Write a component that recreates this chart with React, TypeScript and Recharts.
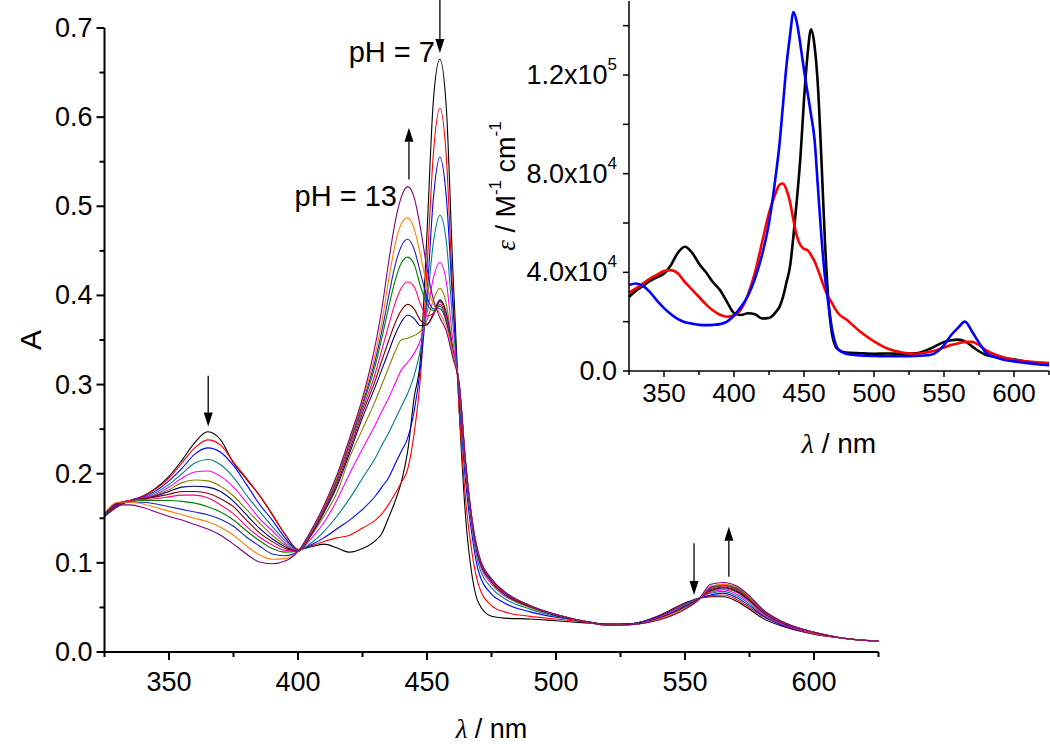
import React from "react";
import { LineChart, Line, XAxis, YAxis, ReferenceLine } from "recharts";

const FONT = '"Liberation Sans", Arial, sans-serif';
const GREEK = '"Liberation Serif", "Times New Roman", serif';

// main plot: absorbance vs wavelength (nm), pH 7 -> pH 13
const mainNm = [
  325, 330, 335, 340, 345, 350, 355, 360, 365, 370, 375, 380, 385, 390, 395, 400, 405, 410, 415, 420, 425,
  430, 432.5, 435, 437.5, 440, 442.5, 445, 447.5, 450, 452.5, 455, 457.5, 460, 462.5, 465, 467.5, 470,
  475, 480, 490, 500, 510, 520, 530, 540, 550, 555, 560, 565, 570, 575, 580, 590, 600, 610, 625,
];

const absBlack = [
  0.152, 0.163, 0.17, 0.175, 0.184, 0.197, 0.215, 0.235, 0.247, 0.238, 0.212, 0.194, 0.176, 0.154, 0.132, 0.115, 0.118, 0.121, 0.117, 0.112, 0.116,
  0.125, 0.133, 0.15, 0.168, 0.19, 0.225, 0.285, 0.33, 0.47, 0.62, 0.665, 0.61, 0.43, 0.27, 0.15, 0.085, 0.055,
  0.04, 0.038, 0.037, 0.035, 0.033, 0.031, 0.032, 0.041, 0.055, 0.06, 0.062, 0.062, 0.057, 0.048, 0.038, 0.027, 0.02, 0.016, 0.012,
];
const absRed = [
  0.152, 0.163, 0.17, 0.175, 0.183, 0.195, 0.212, 0.229, 0.238, 0.232, 0.213, 0.195, 0.176, 0.155, 0.132, 0.115, 0.119, 0.124, 0.128, 0.131, 0.139,
  0.148, 0.155, 0.165, 0.177, 0.19, 0.205, 0.245, 0.31, 0.43, 0.56, 0.61, 0.555, 0.4, 0.27, 0.17, 0.11, 0.075,
  0.052, 0.045, 0.04, 0.037, 0.034, 0.031, 0.032, 0.04, 0.054, 0.06, 0.063, 0.064, 0.059, 0.05, 0.04, 0.028, 0.02, 0.016, 0.012,
];
const absBlue = [
  0.153, 0.164, 0.17, 0.174, 0.181, 0.192, 0.206, 0.222, 0.229, 0.224, 0.209, 0.188, 0.166, 0.148, 0.128, 0.114, 0.12, 0.128, 0.138, 0.148, 0.16,
  0.175, 0.185, 0.195, 0.21, 0.225, 0.24, 0.27, 0.32, 0.4, 0.51, 0.555, 0.51, 0.39, 0.285, 0.19, 0.13, 0.09,
  0.065, 0.055, 0.045, 0.039, 0.035, 0.031, 0.032, 0.04, 0.053, 0.06, 0.064, 0.066, 0.061, 0.052, 0.041, 0.028, 0.021, 0.016, 0.012,
];
const absTeal = [
  0.153, 0.165, 0.17, 0.173, 0.179, 0.188, 0.2, 0.212, 0.216, 0.21, 0.196, 0.176, 0.158, 0.141, 0.125, 0.114, 0.122, 0.135, 0.152, 0.172, 0.195,
  0.218, 0.232, 0.245, 0.26, 0.275, 0.29, 0.31, 0.34, 0.39, 0.46, 0.49, 0.46, 0.37, 0.29, 0.2, 0.138, 0.098,
  0.072, 0.06, 0.048, 0.04, 0.035, 0.031, 0.032, 0.039, 0.053, 0.06, 0.066, 0.068, 0.063, 0.054, 0.042, 0.029, 0.021, 0.016, 0.012,
];
const absMagenta = [
  0.154, 0.166, 0.17, 0.173, 0.177, 0.185, 0.195, 0.202, 0.203, 0.197, 0.185, 0.168, 0.15, 0.136, 0.122, 0.113, 0.127, 0.145, 0.17, 0.2, 0.228,
  0.255, 0.27, 0.284, 0.3, 0.316, 0.325, 0.335, 0.35, 0.38, 0.42, 0.437, 0.415, 0.35, 0.295, 0.205, 0.142, 0.103,
  0.076, 0.063, 0.05, 0.041, 0.035, 0.031, 0.032, 0.039, 0.052, 0.059, 0.067, 0.07, 0.065, 0.056, 0.043, 0.029, 0.021, 0.016, 0.012,
];
const absOlive = [
  0.154, 0.166, 0.17, 0.172, 0.176, 0.182, 0.19, 0.193, 0.192, 0.186, 0.175, 0.16, 0.145, 0.131, 0.12, 0.113, 0.13, 0.152, 0.178, 0.218, 0.25,
  0.282, 0.3, 0.318, 0.336, 0.35, 0.352, 0.355, 0.36, 0.372, 0.395, 0.408, 0.39, 0.34, 0.297, 0.207, 0.144, 0.105,
  0.078, 0.064, 0.05, 0.041, 0.035, 0.031, 0.032, 0.038, 0.051, 0.059, 0.068, 0.071, 0.067, 0.057, 0.044, 0.03, 0.021, 0.016, 0.012,
];
const absNavy = [
  0.154, 0.166, 0.17, 0.172, 0.175, 0.18, 0.185, 0.186, 0.185, 0.18, 0.169, 0.154, 0.139, 0.127, 0.118, 0.113, 0.131, 0.156, 0.185, 0.223, 0.263,
  0.298, 0.317, 0.336, 0.355, 0.37, 0.378, 0.374, 0.366, 0.367, 0.38, 0.395, 0.38, 0.338, 0.298, 0.208, 0.145, 0.106,
  0.079, 0.065, 0.051, 0.041, 0.035, 0.031, 0.032, 0.038, 0.051, 0.059, 0.069, 0.072, 0.068, 0.058, 0.045, 0.03, 0.022, 0.016, 0.012,
];
const absWine = [
  0.154, 0.166, 0.17, 0.172, 0.174, 0.177, 0.18, 0.18, 0.178, 0.172, 0.163, 0.148, 0.134, 0.124, 0.116, 0.113, 0.132, 0.158, 0.188, 0.227, 0.268,
  0.305, 0.327, 0.348, 0.368, 0.383, 0.39, 0.385, 0.372, 0.368, 0.378, 0.393, 0.378, 0.338, 0.299, 0.209, 0.146, 0.107,
  0.08, 0.066, 0.051, 0.042, 0.035, 0.031, 0.031, 0.038, 0.05, 0.059, 0.07, 0.073, 0.069, 0.059, 0.045, 0.03, 0.022, 0.016, 0.012,
];
const absPink = [
  0.155, 0.167, 0.17, 0.171, 0.172, 0.174, 0.176, 0.176, 0.173, 0.165, 0.155, 0.141, 0.129, 0.12, 0.114, 0.113, 0.133, 0.16, 0.191, 0.231, 0.272,
  0.313, 0.339, 0.365, 0.39, 0.408, 0.415, 0.41, 0.39, 0.377, 0.38, 0.39, 0.375, 0.337, 0.299, 0.21, 0.147, 0.108,
  0.08, 0.066, 0.052, 0.042, 0.035, 0.03, 0.031, 0.037, 0.05, 0.058, 0.071, 0.074, 0.07, 0.06, 0.046, 0.031, 0.022, 0.016, 0.012,
];
const absGreen = [
  0.155, 0.167, 0.169, 0.17, 0.17, 0.17, 0.169, 0.167, 0.163, 0.157, 0.148, 0.136, 0.125, 0.116, 0.112, 0.113, 0.134, 0.161, 0.193, 0.234, 0.276,
  0.322, 0.352, 0.385, 0.415, 0.436, 0.443, 0.435, 0.41, 0.39, 0.383, 0.388, 0.372, 0.336, 0.3, 0.211, 0.147, 0.108,
  0.081, 0.067, 0.052, 0.042, 0.035, 0.03, 0.031, 0.037, 0.05, 0.058, 0.072, 0.075, 0.071, 0.061, 0.047, 0.031, 0.022, 0.016, 0.012,
];
const absRoyal = [
  0.155, 0.167, 0.168, 0.168, 0.166, 0.163, 0.16, 0.157, 0.154, 0.149, 0.141, 0.129, 0.119, 0.11, 0.108, 0.113, 0.134, 0.162, 0.195, 0.236, 0.279,
  0.328, 0.36, 0.397, 0.432, 0.455, 0.463, 0.452, 0.425, 0.398, 0.385, 0.385, 0.37, 0.335, 0.3, 0.211, 0.147, 0.109,
  0.081, 0.067, 0.052, 0.042, 0.035, 0.03, 0.031, 0.037, 0.049, 0.058, 0.073, 0.076, 0.072, 0.062, 0.047, 0.031, 0.022, 0.016, 0.012,
];
const absOrange = [
  0.155, 0.168, 0.168, 0.166, 0.162, 0.158, 0.154, 0.15, 0.146, 0.14, 0.131, 0.119, 0.109, 0.104, 0.105, 0.113, 0.135, 0.163, 0.196, 0.238, 0.282,
  0.335, 0.37, 0.415, 0.455, 0.48, 0.487, 0.475, 0.445, 0.41, 0.39, 0.38, 0.365, 0.335, 0.3, 0.212, 0.148, 0.11,
  0.082, 0.068, 0.052, 0.042, 0.035, 0.03, 0.031, 0.037, 0.049, 0.058, 0.074, 0.076, 0.073, 0.062, 0.048, 0.031, 0.022, 0.016, 0.012,
];
const absPurple = [
  0.155, 0.165, 0.165, 0.162, 0.157, 0.152, 0.148, 0.143, 0.138, 0.131, 0.121, 0.11, 0.101, 0.099, 0.102, 0.113, 0.136, 0.164, 0.198, 0.24, 0.285,
  0.345, 0.385, 0.435, 0.48, 0.51, 0.522, 0.51, 0.475, 0.43, 0.395, 0.375, 0.36, 0.33, 0.3, 0.212, 0.148, 0.11,
  0.082, 0.068, 0.052, 0.042, 0.035, 0.03, 0.031, 0.036, 0.048, 0.058, 0.076, 0.078, 0.074, 0.063, 0.048, 0.031, 0.022, 0.016, 0.012,
];

const mainSeries = [
  { key: "black", color: "#000000", values: absBlack },
  { key: "red", color: "#ff0000", values: absRed },
  { key: "blue", color: "#0000ff", values: absBlue },
  { key: "teal", color: "#008080", values: absTeal },
  { key: "magenta", color: "#ff00ff", values: absMagenta },
  { key: "olive", color: "#808000", values: absOlive },
  { key: "navy", color: "#000080", values: absNavy },
  { key: "wine", color: "#800000", values: absWine },
  { key: "pink", color: "#ff0080", values: absPink },
  { key: "green", color: "#008000", values: absGreen },
  { key: "royal", color: "#2020c8", values: absRoyal },
  { key: "orange", color: "#ff8000", values: absOrange },
  { key: "purple", color: "#800080", values: absPurple },
];

// inset: molar absorptivity (M^-1 cm^-1)
const insetNm = [
  325, 330, 335, 340, 345, 350, 355, 360, 365, 370, 375, 380, 385, 390, 395, 400, 405, 410, 415, 420, 425, 430,
  432.5, 435, 437.5, 440, 442.5, 445, 447.5, 450, 452.5, 455, 457.5, 460, 462.5, 465, 467.5, 470, 472.5, 475,
  480, 490, 500, 510, 520, 530, 540, 550, 555, 560, 565, 570, 575, 580, 590, 600, 610, 625,
];
const epsBlack = [
  30000, 32500, 34500, 36500, 38000, 39500, 43000, 48000, 50400, 48000, 43500, 40000, 36000, 32800, 28000, 23500, 22700, 23400, 23000, 21300, 21500, 24000,
  26000, 30000, 36000, 42300, 55000, 70000, 87000, 110000, 128000, 138500, 132000, 115000, 85000, 52000, 28000, 15000, 10000, 8500,
  7500, 7200, 7000, 7100, 7000, 7200, 9000, 11800, 12500, 12700, 12000, 10000, 8000, 6500, 5500, 4700, 3700, 2400,
];
const epsRed = [
  31700, 33500, 35500, 37500, 39000, 40500, 40900, 39500, 36000, 33000, 30000, 27000, 24500, 22800, 22000, 22500, 25000, 31000, 40000, 52000, 64000, 72500,
  75500, 76000, 73500, 68500, 61000, 54500, 51000, 49500, 49000, 47000, 44500, 41000, 37000, 33000, 30000, 27500, 25000, 23000,
  21000, 16000, 12000, 9000, 7500, 7000, 7800, 9500, 10500, 11200, 11800, 11800, 10500, 8500, 6000, 4500, 3800, 3200,
];
const epsBlue = [
  34900, 35500, 34500, 32000, 28500, 25500, 23000, 21000, 19800, 19200, 18700, 18600, 18700, 19000, 20000, 22500, 26000, 30500, 37500, 47000, 60000, 80000,
  92000, 108000, 124000, 136000, 145500, 141000, 132000, 122000, 113000, 104000, 94000, 74000, 54000, 38000, 27000, 17000, 11000, 8500,
  7000, 6300, 6100, 6000, 6000, 6100, 6500, 10500, 14500, 17500, 20000, 16000, 11500, 7500, 5000, 3900, 3200, 2400,
];

const insetSeries = [
  { key: "black", color: "#000000", values: epsBlack },
  { key: "red", color: "#ff0000", values: epsRed },
  { key: "blue", color: "#0000ff", values: epsBlue },
];

const mainXTicks = [325, 350, 375, 400, 425, 450, 475, 500, 525, 550, 575, 600, 625];
const mainYTicks = [0, 0.05, 0.1, 0.15, 0.2, 0.25, 0.3, 0.35, 0.4, 0.45, 0.5, 0.55, 0.6, 0.65, 0.7];
const insetYTicks = [0, 20000, 40000, 60000, 80000, 100000, 120000, 140000];

// arrows: wavelength, start absorbance, tip absorbance
const arrowMarks = [
  { nm: 455, from: 0.735, to: 0.672, text: "pH = 7", place: "tip" },
  { nm: 443, from: 0.53, to: 0.588, text: "pH = 13", place: "tail" },
  { nm: 365.2, from: 0.31, to: 0.253, text: "", place: "" },
  { nm: 553.5, from: 0.122, to: 0.064, text: "", place: "" },
  { nm: 567, from: 0.0845, to: 0.1406, text: "", place: "" },
];

const mainRows = mainNm.map((nm, i) => {
  const row: Record<string, number> = { nm };
  mainSeries.forEach((s) => (row[s.key] = s.values[i]));
  return row;
});
const insetRows = insetNm.map((nm, i) => {
  const row: Record<string, number> = { nm };
  insetSeries.forEach((s) => (row[s.key] = s.values[i]));
  return row;
});

function MainXTick({ x, y, payload }: any) {
  const v = payload.value;
  const major = v % 50 === 0;
  return (
    <g>
      <line x1={x} x2={x} y1={y} y2={y + (major ? 8 : 5)} stroke="#000" strokeWidth={2} />
      {major && (
        <text x={x} y={y + 30} textAnchor="middle" dominantBaseline="central" fontSize={27} fontFamily={FONT} fill="#000">
          {v}
        </text>
      )}
    </g>
  );
}

function MainYTick({ x, y, payload }: any) {
  const v = payload.value;
  const major = Math.round(v * 100) % 10 === 0;
  return (
    <g>
      <line x1={x - (major ? 8 : 5)} x2={x} y1={y} y2={y} stroke="#000" strokeWidth={2} />
      {major && (
        <text x={x - 12} y={y} textAnchor="end" dominantBaseline="central" fontSize={27} fontFamily={FONT} fill="#000">
          {v.toFixed(1)}
        </text>
      )}
    </g>
  );
}

function InsetXTick({ x, y, payload }: any) {
  const v = payload.value;
  const major = v % 50 === 0;
  return (
    <g>
      <line x1={x} x2={x} y1={y} y2={y + (major ? 6 : 4)} stroke="#000" strokeWidth={1.5} />
      {major && (
        <text x={x} y={y + 22} textAnchor="middle" dominantBaseline="central" fontSize={26} fontFamily={FONT} fill="#000">
          {v}
        </text>
      )}
    </g>
  );
}

function InsetYTick({ x, y, payload }: any) {
  const v = payload.value;
  const major = v % 40000 === 0;
  let label: React.ReactNode = null;
  if (major) {
    if (v === 0) {
      label = "0.0";
    } else {
      const exp = Math.floor(Math.log10(v));
      const mant = (v / Math.pow(10, exp)).toFixed(1);
      label = (
        <>
          <tspan>{mant}x10</tspan>
          <tspan dy={-11} fontSize={17}>{exp}</tspan>
        </>
      );
    }
  }
  return (
    <g>
      <line x1={x - 6} x2={x} y1={y} y2={y} stroke="#000" strokeWidth={1.5} />
      {major && (
        <text x={x - 12} y={y} textAnchor="end" dominantBaseline="central" fontSize={27} fontFamily={FONT} fill="#000">
          {label}
        </text>
      )}
    </g>
  );
}

function MainXTitle({ viewBox }: any) {
  return (
    <text x={viewBox.x + viewBox.width / 2} y={viewBox.y + 77} textAnchor="middle" dominantBaseline="central" fontSize={27} fontFamily={FONT} fill="#000">
      <tspan fontFamily={GREEK} fontStyle="italic">λ</tspan> / nm
    </text>
  );
}

function MainYTitle({ viewBox }: any) {
  const cx = viewBox.x + 30;
  const cy = viewBox.y + viewBox.height / 2;
  return (
    <text x={cx} y={cy} transform={`rotate(-90, ${cx}, ${cy})`} textAnchor="middle" dominantBaseline="central" fontSize={30} fontFamily={FONT} fill="#000">
      A
    </text>
  );
}

function InsetXTitle({ viewBox }: any) {
  return (
    <text x={viewBox.x + viewBox.width / 2} y={viewBox.y + 72} textAnchor="middle" dominantBaseline="central" fontSize={28} fontFamily={FONT} fill="#000">
      <tspan fontFamily={GREEK} fontStyle="italic">λ</tspan> / nm
    </text>
  );
}

function InsetYTitle({ viewBox }: any) {
  const cx = viewBox.x + 26;
  const cy = viewBox.y + viewBox.height / 2;
  return (
    <text x={cx} y={cy} transform={`rotate(-90, ${cx}, ${cy})`} textAnchor="middle" dominantBaseline="central" fontSize={27} fontFamily={FONT} fill="#000">
      <tspan fontFamily={GREEK} fontStyle="italic">ε</tspan>
      <tspan> / M</tspan>
      <tspan dy={-11} fontSize={17}>-1</tspan>
      <tspan dy={11}> cm</tspan>
      <tspan dy={-11} fontSize={17}>-1</tspan>
    </text>
  );
}

function ArrowShape(props: any) {
  const { x1, y1, x2, y2, mark } = props;
  const dir = y2 > y1 ? 1 : -1;
  const head = 14;
  const half = 4.5;
  return (
    <g>
      <line x1={x1} y1={y1} x2={x2} y2={y2 - dir * head} stroke="#000" strokeWidth={1.3} />
      <polygon points={`${x2},${y2} ${x2 - half},${y2 - dir * head} ${x2 + half},${y2 - dir * head}`} fill="#000" />
      {mark.place === "tip" && (
        <text x={x2 - 5} y={y2 - 1} textAnchor="end" dominantBaseline="central" fontSize={29} fontFamily={FONT} fill="#000">
          {mark.text}
        </text>
      )}
      {mark.place === "tail" && (
        <text x={x1 - 12} y={y1 + 16} textAnchor="end" dominantBaseline="central" fontSize={29} fontFamily={FONT} fill="#000">
          {mark.text}
        </text>
      )}
    </g>
  );
}

export default function App() {
  return (
    <div style={{ position: "absolute", left: 0, top: 0, width: 1050, height: 744, background: "#fff" }}>
      <div style={{ position: "absolute", left: 0, top: 0 }}>
        <LineChart width={1050} height={744} data={mainRows} margin={{ top: 28, right: 171.5, bottom: 0, left: 0 }}>
          <XAxis
            dataKey="nm"
            type="number"
            domain={[325, 625]}
            ticks={mainXTicks}
            interval={0}
            height={92}
            tickSize={0}
            tickMargin={0}
            tickLine={false}
            axisLine={{ stroke: "#000", strokeWidth: 2 }}
            tick={<MainXTick />}
            label={<MainXTitle />}
          />
          <YAxis
            type="number"
            domain={[0, 0.7]}
            ticks={mainYTicks}
            interval={0}
            width={104.5}
            tickSize={0}
            tickMargin={0}
            tickLine={false}
            axisLine={{ stroke: "#000", strokeWidth: 2 }}
            tick={<MainYTick />}
            label={<MainYTitle />}
          />
          {mainSeries.map((s) => (
            <Line key={s.key} type="monotone" dataKey={s.key} stroke={s.color} strokeWidth={1.1} dot={false} isAnimationActive={false} />
          ))}
          {arrowMarks.map((m, i) => (
            <ReferenceLine
              key={i}
              segment={[
                { x: m.nm, y: m.from },
                { x: m.nm, y: m.to },
              ]}
              ifOverflow="visible"
              shape={(p: any) => <ArrowShape {...p} mark={m} />}
            />
          ))}
        </LineChart>
      </div>
      <div style={{ position: "absolute", left: 480, top: 0 }}>
        <LineChart width={570} height={460} data={insetRows} margin={{ top: 1, right: 1, bottom: 0, left: 0 }}>
          <XAxis
            dataKey="nm"
            type="number"
            domain={[325, 625]}
            ticks={mainXTicks}
            interval={0}
            height={89}
            tickSize={0}
            tickMargin={0}
            tickLine={false}
            axisLine={{ stroke: "#000", strokeWidth: 1.5 }}
            tick={<InsetXTick />}
            label={<InsetXTitle />}
          />
          <YAxis
            type="number"
            domain={[0, 150000]}
            ticks={insetYTicks}
            interval={0}
            width={149}
            tickSize={0}
            tickMargin={0}
            tickLine={false}
            axisLine={{ stroke: "#000", strokeWidth: 1.5 }}
            tick={<InsetYTick />}
            label={<InsetYTitle />}
          />
          {insetSeries.map((s) => (
            <Line key={s.key} type="monotone" dataKey={s.key} stroke={s.color} strokeWidth={2.6} dot={false} isAnimationActive={false} />
          ))}
        </LineChart>
      </div>
    </div>
  );
}
